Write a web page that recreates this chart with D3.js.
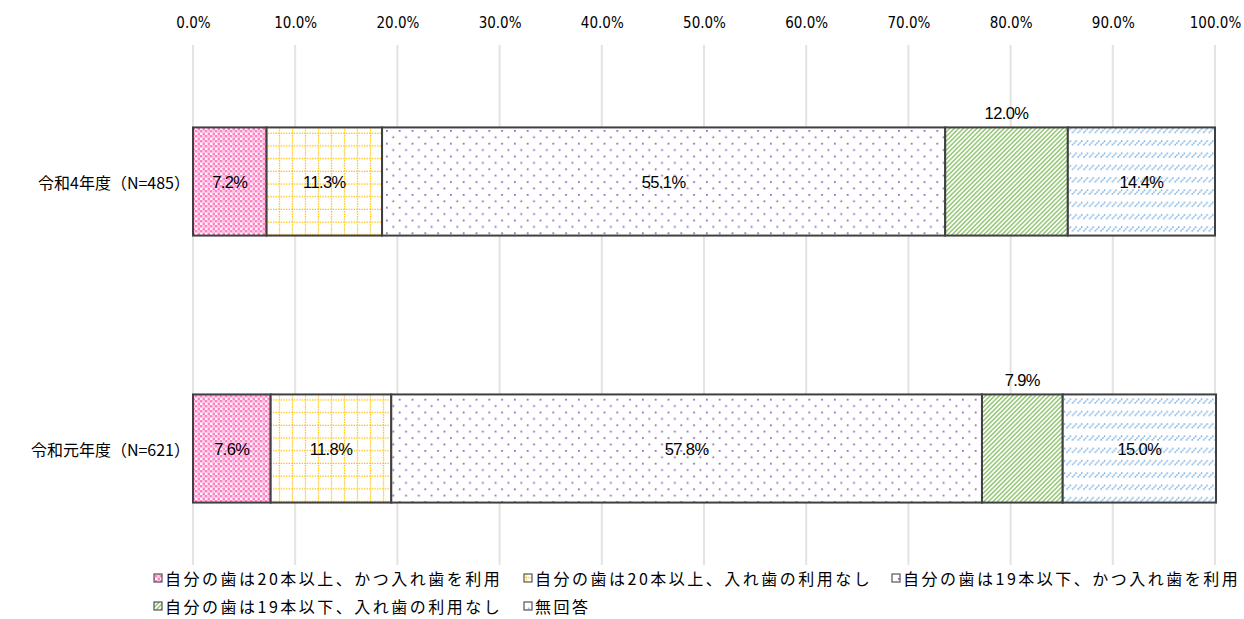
<!DOCTYPE html>
<html lang="ja">
<head>
<meta charset="UTF-8">
<title>歯の状況</title>
<script src="https://d3js.org/d3.v7.min.js"></script>
<style>
  body { margin: 0; background: #fff; }
  text { font-family: "Noto Sans CJK JP", "Noto Sans", sans-serif; fill: #000; }
</style>
</head>
<body>
<div id="chart"></div>
<script>
// data
const years = ["令和4年度（N=485）", "令和元年度（N=621）"];
const seriesNames = [
  "自分の歯は20本以上、かつ入れ歯を利用",
  "自分の歯は20本以上、入れ歯の利用なし",
  "自分の歯は19本以下、かつ入れ歯を利用",
  "自分の歯は19本以下、入れ歯の利用なし",
  "無回答"
];
const r4Values = [7.2, 11.3, 55.1, 12.0, 14.4];
const r1Values = [7.6, 11.8, 57.8, 7.9, 15.0];
const tickValues = [0, 10, 20, 30, 40, 50, 60, 70, 80, 90, 100];

const allValues = [r4Values, r1Values];

const W = 1244, H = 619;
const svg = d3.select("#chart").append("svg")
  .attr("width", W).attr("height", H);

// patterns
const defs = svg.append("defs");

// pink checker
const p0 = defs.append("pattern").attr("id", "pat0")
  .attr("patternUnits", "userSpaceOnUse").attr("width", 5).attr("height", 5);
p0.append("rect").attr("width", 5).attr("height", 5).attr("fill", "#fff");
p0.append("rect").attr("width", 2.5).attr("height", 2.5).attr("fill", "#ff80c4");
p0.append("rect").attr("x", 2.5).attr("y", 2.5).attr("width", 2.5).attr("height", 2.5).attr("fill", "#ff80c4");
p0.append("rect").attr("x", 2.5).attr("y", 0).attr("width", 2.5).attr("height", 2.5).attr("fill", "#ffc4e4");

// yellow dotted grid
const p1 = defs.append("pattern").attr("id", "pat1")
  .attr("patternUnits", "userSpaceOnUse").attr("width", 13).attr("height", 12.7);
p1.append("rect").attr("width", 13).attr("height", 12.7).attr("fill", "#fff");
p1.append("line").attr("x1", 6.5).attr("x2", 6.5).attr("y1", 0).attr("y2", 12.7)
  .attr("stroke", "#ffc000").attr("stroke-width", 1.3).attr("stroke-dasharray", "1.4,1.2");
p1.append("line").attr("x1", 0).attr("x2", 13).attr("y1", 6.3).attr("y2", 6.3)
  .attr("stroke", "#ffc000").attr("stroke-width", 1.3).attr("stroke-dasharray", "1.4,1.2");

// purple dots
const p2 = defs.append("pattern").attr("id", "pat2")
  .attr("patternUnits", "userSpaceOnUse").attr("width", 12.8).attr("height", 12.8);
p2.append("rect").attr("width", 12.8).attr("height", 12.8).attr("fill", "#fff");
p2.append("rect").attr("x", 2).attr("y", 2).attr("width", 1.7).attr("height", 1.7).attr("fill", "#8a55c8");
p2.append("rect").attr("x", 8.4).attr("y", 8.4).attr("width", 1.7).attr("height", 1.7).attr("fill", "#8a55c8");

// green diagonal
const p3 = defs.append("pattern").attr("id", "pat3")
  .attr("patternUnits", "userSpaceOnUse").attr("width", 3.2).attr("height", 3.2)
  .attr("patternTransform", "rotate(45)");
p3.append("rect").attr("width", 3.2).attr("height", 3.2).attr("fill", "#fff");
p3.append("line").attr("x1", 0.8).attr("x2", 0.8).attr("y1", 0).attr("y2", 3.2)
  .attr("stroke", "#8cc46a").attr("stroke-width", 1.4);

// blue dashed slashes
const p4 = defs.append("pattern").attr("id", "pat4")
  .attr("patternUnits", "userSpaceOnUse").attr("width", 5.7).attr("height", 12.3);
p4.append("rect").attr("width", 5.7).attr("height", 12.3).attr("fill", "#fff");
p4.append("line").attr("x1", 0.5).attr("y1", 10).attr("x2", 5.2).attr("y2", 5)
  .attr("stroke", "#62a2de").attr("stroke-width", 1.3).attr("stroke-dasharray", "1.6,0.9");

// scales
const x = d3.scaleLinear().domain([0, 100]).range([193, 1215]);
const y = d3.scaleBand().domain(years).range([48, 582]).paddingInner(0.595).paddingOuter(0.2975);

// gridlines
svg.append("g").selectAll("line").data(tickValues).join("line")
  .attr("x1", d => x(d)).attr("x2", d => x(d))
  .attr("y1", 45).attr("y2", 565)
  .attr("stroke", "#e3e3e3").attr("stroke-width", 2);

// top axis labels
const xAxis = svg.append("g").attr("transform", "translate(0,28)")
  .call(d3.axisTop(x).tickValues(tickValues).tickFormat(d => d.toFixed(1) + "%").tickSize(0).tickPadding(0));
xAxis.select(".domain").remove();
xAxis.attr("font-size", null).attr("font-family", null);
xAxis.selectAll("text")
  .style("font-family", "'DejaVu Sans Condensed', 'DejaVu Sans', sans-serif")
  .style("font-size", "15px").attr("fill", "#000");

// bars
years.forEach((yr, i) => {
  const vals = allValues[i];
  let acc = 0;
  const segs = vals.map((v, j) => {
    const s = { start: acc, end: acc + v, v: v, j: j };
    acc += v;
    return s;
  });
  const g = svg.append("g");
  g.selectAll("rect").data(segs).join("rect")
    .attr("x", d => x(d.start))
    .attr("y", y(yr))
    .attr("width", d => x(d.end) - x(d.start))
    .attr("height", y.bandwidth())
    .attr("fill", d => "url(#pat" + d.j + ")")
    .attr("stroke", "#404040").attr("stroke-width", 2);

  g.selectAll("text").data(segs).join("text")
    .attr("x", d => (x(d.start) + x(d.end)) / 2)
    .attr("y", d => d.j === 3 ? y(yr) - 14 : y(yr) + y.bandwidth() / 2)
    .attr("text-anchor", "middle")
    .attr("dominant-baseline", "central")
    .style("font-family", "'Liberation Sans', Arial, sans-serif")
    .style("font-size", "16.5px")
    .style("letter-spacing", "-0.6px")
    .text(d => d.v.toFixed(1) + "%");
});

// category labels
svg.append("g").selectAll("text").data(years).join("text")
  .attr("x", 190)
  .attr("y", d => y(d) + y.bandwidth() / 2)
  .attr("text-anchor", "end")
  .attr("dominant-baseline", "central")
  .style("font-size", "16px")
  .text(d => d);

// legend
const legendPos = [[157, 578], [527, 578], [895, 578], [157, 606], [527, 606]];
const lg = svg.append("g");
seriesNames.forEach((name, j) => {
  const [lx, ly] = legendPos[j];
  lg.append("rect")
    .attr("x", lx - 3).attr("y", ly - 4).attr("width", 8).attr("height", 8)
    .attr("fill", "url(#pat" + j + ")")
    .attr("stroke", "#555").attr("stroke-width", 1.2);
  lg.append("text")
    .attr("x", lx + 8).attr("y", ly)
    .attr("dominant-baseline", "central")
    .style("font-size", "16px")
    .style("letter-spacing", "2.5px")
    .text(name);
});
</script>
</body>
</html>
